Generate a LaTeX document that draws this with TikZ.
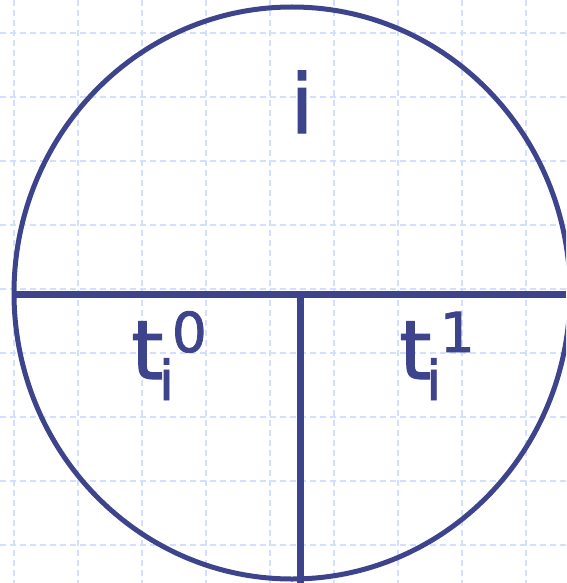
\documentclass[tikz,border=0pt]{standalone}
\usepackage{fontspec}
\setmainfont[RawFeature={embolden=1.5}]{DejaVu Sans}
\definecolor{ink}{RGB}{62,68,140}
\definecolor{gridc}{RGB}{212,222,254}
\newcommand{\smallsz}{\fontsize{55}{55}\selectfont}
\tikzset{
  gridline/.style={draw=gridc, line width=1.3pt, dash pattern=on 6pt off 4pt},
  outline/.style={draw=ink, line width=5pt},
  bar/.style={draw=ink, line width=7pt},
  big/.style={text=ink, inner sep=0pt, anchor=base, font=\fontsize{82}{82}\selectfont},
}
\begin{document}
\begin{tikzpicture}[x=1pt,y=-1pt]
\useasboundingbox (0,0) rectangle (566,583);
\clip (0,0) rectangle (566,583);
\fill[white] (0,0) rectangle (566,583);
% grid
\foreach \gx in {14,78,...,526} { \draw[gridline] (\gx,0) -- (\gx,583); }
\foreach \gy in {33,97,...,545} { \draw[gridline] (0,\gy) -- (566,\gy); }
% ellipse
\draw[outline] (292,293) ellipse [x radius=278, y radius=286];
% bars
\coordinate (L) at (14,294);
\coordinate (R) at (566,294);
\coordinate (M) at (300.5,294);
\coordinate (B) at (300.5,583);
\draw[bar] (L) -- (R);
\draw[bar] (M) -- (B);
% labels
\node[big] (itop) at (302,133) {i};
\node[big, anchor=base west] (t0) at (131,379)
  {t\kern-4.4pt\rlap{\raisebox{-21pt}{\smallsz i}}\kern12.9pt\raisebox{27pt}{\smallsz 0}};
\node[big, anchor=base west] (t1) at (399,379)
  {t\kern-5.2pt\rlap{\raisebox{-21pt}{\smallsz i}}\kern13.7pt\raisebox{27pt}{\smallsz 1}};
\end{tikzpicture}
\end{document}
